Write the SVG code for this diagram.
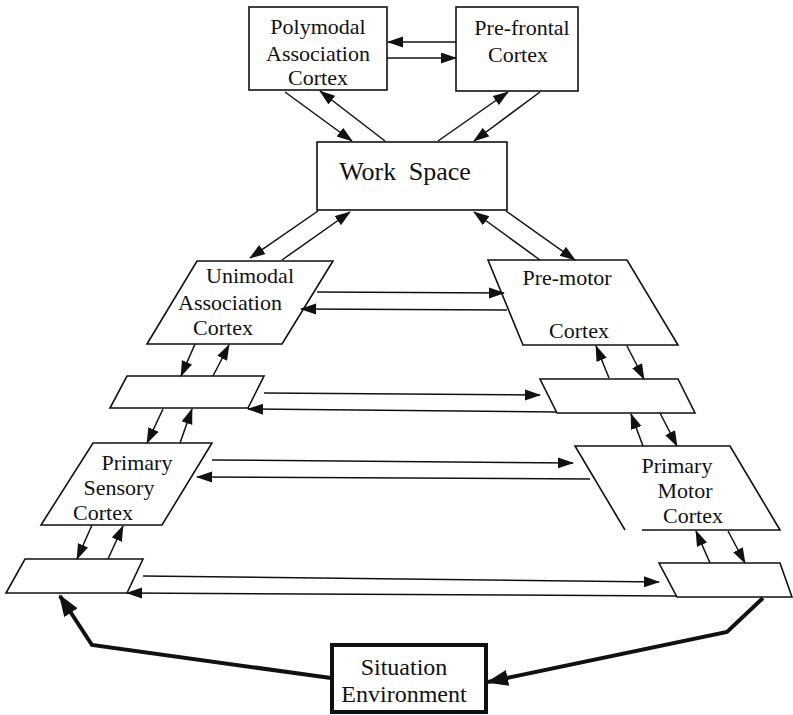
<svg xmlns="http://www.w3.org/2000/svg" width="793" height="715" viewBox="0 0 793 715">
<style>
.box{fill:#fff;stroke:#111;stroke-width:1.6}
.thick{fill:#fff;stroke:#111;stroke-width:4}
.t{font-family:"Liberation Serif","Times New Roman",serif;font-size:22px;fill:#111;text-anchor:middle}
.ws{font-size:26px;word-spacing:6px}
.c line{stroke:#111;stroke-width:1.5;marker-end:url(#ah)}
.c polyline{fill:none;stroke:#111;stroke-width:4;stroke-linejoin:miter;marker-end:url(#bh)}
</style>
<defs>
<marker id="ah" markerUnits="userSpaceOnUse" markerWidth="16" markerHeight="12" refX="15" refY="5.5" orient="auto">
<path d="M0,0 L16,5.5 L0,11 z" fill="#111"/>
</marker>
<marker id="bh" markerUnits="userSpaceOnUse" markerWidth="22" markerHeight="18" refX="20" refY="8" orient="auto">
<path d="M0,0 L22,8 L0,16 z" fill="#111"/>
</marker>
</defs>
<rect width="793" height="715" fill="#fff"/>
<g id="polymodal">
<rect class="box" x="249" y="7" width="138" height="83"/>
<text class="t" x="318" y="34">Polymodal</text>
<text class="t" x="318" y="61">Association</text>
<text class="t" x="318" y="85">Cortex</text>
</g>
<g id="prefrontal">
<rect class="box" x="456" y="7" width="122" height="84"/>
<text class="t" x="522" y="35">Pre-frontal</text>
<text class="t" x="518" y="62">Cortex</text>
</g>
<g id="workspace">
<rect class="box" x="317" y="142" width="190" height="68"/>
<text class="t ws" x="405" y="180">Work Space</text>
</g>
<g id="unimodal">
<polygon class="box" points="197,261 333,261 282,344 147,344"/>
<text class="t" x="250" y="283">Unimodal</text>
<text class="t" x="230" y="310">Association</text>
<text class="t" x="223" y="335">Cortex</text>
</g>
<g id="premotor">
<polygon class="box" points="488,260 627,260 678,345 523,345"/>
<text class="t" x="567" y="285">Pre-motor</text>
<text class="t" x="579" y="338">Cortex</text>
</g>
<g id="left-relay-1">
<polygon class="box" points="127,376 264,376 248,408 110,408"/>
</g>
<g id="right-relay-1">
<polygon class="box" points="540,379 678,379 695,413 557,413"/>
</g>
<g id="primary-sensory">
<polygon class="box" points="93,443 212,443 162,525 41,525"/>
<text class="t" x="137" y="470">Primary</text>
<text class="t" x="119" y="495">Sensory</text>
<text class="t" x="103" y="520">Cortex</text>
</g>
<g id="primary-motor">
<path class="box" d="M642,530 L780,530 L730,446 L575,446 L625,530" fill="#fff"/>
<text class="t" x="677" y="473">Primary</text>
<text class="t" x="685" y="498">Motor</text>
<text class="t" x="693" y="523">Cortex</text>
</g>
<g id="left-relay-2">
<polygon class="box" points="25,559 143,559 127,593 6,593"/>
</g>
<g id="right-relay-2">
<polygon class="box" points="659,563 780,563 792,597 677,597"/>
</g>
<g id="situation">
<rect class="thick" x="332" y="645" width="154" height="67"/>
<text class="t" x="404" y="675" style="font-size:24px">Situation</text>
<text class="t" x="404" y="702" style="font-size:24px">Environment</text>
</g>
<g id="connectors" class="c">
<line x1="456" y1="42" x2="388" y2="42"/>
<line x1="387" y1="58" x2="456" y2="58"/>
<line x1="285" y1="92" x2="352" y2="141"/>
<line x1="385" y1="141" x2="320" y2="91"/>
<line x1="438" y1="141" x2="508" y2="92"/>
<line x1="540" y1="92" x2="474" y2="141"/>
<line x1="318" y1="211" x2="250" y2="258"/>
<line x1="282" y1="260" x2="350" y2="212"/>
<line x1="540" y1="260" x2="474" y2="212"/>
<line x1="506" y1="211" x2="575" y2="260"/>
<line x1="317" y1="292" x2="504" y2="293"/>
<line x1="507" y1="310" x2="301" y2="309"/>
<line x1="195" y1="344" x2="181" y2="376"/>
<line x1="213" y1="376" x2="229" y2="345"/>
<line x1="609" y1="378" x2="596" y2="346"/>
<line x1="627" y1="346" x2="644" y2="379"/>
<line x1="264" y1="393" x2="540" y2="395"/>
<line x1="557" y1="412" x2="248" y2="409"/>
<line x1="163" y1="409" x2="147" y2="443"/>
<line x1="180" y1="443" x2="192" y2="409"/>
<line x1="643" y1="446" x2="631" y2="414"/>
<line x1="660" y1="413" x2="677" y2="446"/>
<line x1="212" y1="460" x2="573" y2="463"/>
<line x1="590" y1="479" x2="197" y2="477"/>
<line x1="92" y1="525" x2="77" y2="559"/>
<line x1="108" y1="559" x2="123" y2="526"/>
<line x1="710" y1="563" x2="696" y2="531"/>
<line x1="728" y1="531" x2="745" y2="563"/>
<line x1="143" y1="576" x2="659" y2="582"/>
<line x1="677" y1="596" x2="127" y2="593"/>
<polyline points="763,598 727,632 488,682"/>
<polyline points="331,678 92,645 60,596"/>
</g>
</svg>
